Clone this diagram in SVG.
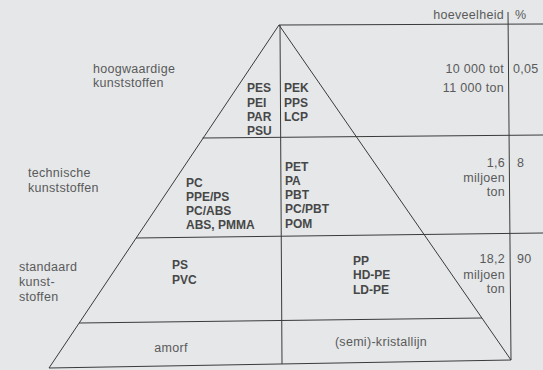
<svg xmlns="http://www.w3.org/2000/svg" width="543" height="370" viewBox="0 0 543 370">
<style>
.bg{fill:#e5e7e9}
.ln{stroke:#3a3a3a;stroke-width:1;fill:none}
.lt{font-family:"Liberation Sans",Arial,sans-serif;font-size:12.5px;fill:#5a5a5a;letter-spacing:0.3px}
.r{text-anchor:end}
.m{text-anchor:middle}
.b{font-family:"Liberation Sans",Arial,sans-serif;font-size:12px;font-weight:bold;fill:#474747}
</style>
<rect class="bg" x="0" y="0" width="543" height="370"/>
<g id="connectors">
<line class="ln" x1="279" y1="25" x2="49" y2="368"/>
<line class="ln" x1="279" y1="25" x2="511" y2="360"/>
<line class="ln" x1="280" y1="25" x2="282" y2="364"/>
<line class="ln" x1="279" y1="25" x2="543" y2="24"/>
<line class="ln" x1="508" y1="12" x2="511" y2="360"/>
<line class="ln" x1="202.5" y1="138" x2="543" y2="135"/>
<line class="ln" x1="136" y1="238" x2="543" y2="233"/>
<line class="ln" x1="79" y1="323" x2="482" y2="318"/>
<line class="ln" x1="49" y1="368" x2="511" y2="360"/>
</g>
<g id="header">
<text class="lt r" x="504" y="19">hoeveelheid</text>
<text class="lt" x="515" y="19">%</text>
</g>
<g id="tier-hoogwaardig">
<text class="lt" x="93" y="73">hoogwaardige</text>
<text class="lt" x="93" y="87">kunststoffen</text>
<text class="b" x="247" y="92">PES</text>
<text class="b" x="247" y="107">PEI</text>
<text class="b" x="247" y="121">PAR</text>
<text class="b" x="247" y="135">PSU</text>
<text class="b" x="284" y="92">PEK</text>
<text class="b" x="284" y="107">PPS</text>
<text class="b" x="284" y="121">LCP</text>
<text class="lt r" x="504" y="73">10 000 tot</text>
<text class="lt r" x="504" y="92">11 000 ton</text>
<text class="lt" x="513" y="73">0,05</text>
</g>
<g id="tier-technisch">
<text class="lt" x="28" y="177">technische</text>
<text class="lt" x="28" y="192">kunststoffen</text>
<text class="b" x="186" y="187">PC</text>
<text class="b" x="186" y="201">PPE/PS</text>
<text class="b" x="186" y="215">PC/ABS</text>
<text class="b" x="186" y="229">ABS, PMMA</text>
<text class="b" x="285" y="171">PET</text>
<text class="b" x="285" y="185">PA</text>
<text class="b" x="285" y="199">PBT</text>
<text class="b" x="285" y="213">PC/PBT</text>
<text class="b" x="285" y="228">POM</text>
<text class="lt r" x="505" y="167">1,6</text>
<text class="lt r" x="505" y="182">miljoen</text>
<text class="lt r" x="505" y="196">ton</text>
<text class="lt" x="517" y="167">8</text>
</g>
<g id="tier-standaard">
<text class="lt" x="19" y="271">standaard</text>
<text class="lt" x="19" y="286">kunst-</text>
<text class="lt" x="19" y="301">stoffen</text>
<text class="b" x="172" y="269">PS</text>
<text class="b" x="172" y="284">PVC</text>
<text class="b" x="353" y="265">PP</text>
<text class="b" x="353" y="279">HD-PE</text>
<text class="b" x="353" y="294">LD-PE</text>
<text class="lt r" x="505" y="263">18,2</text>
<text class="lt r" x="505" y="279">miljoen</text>
<text class="lt r" x="505" y="293">ton</text>
<text class="lt" x="517" y="263">90</text>
</g>
<g id="tier-basis">
<text class="lt m" x="171" y="352">amorf</text>
<text class="lt m" x="381" y="346">(semi)-kristallijn</text>
</g>
</svg>
